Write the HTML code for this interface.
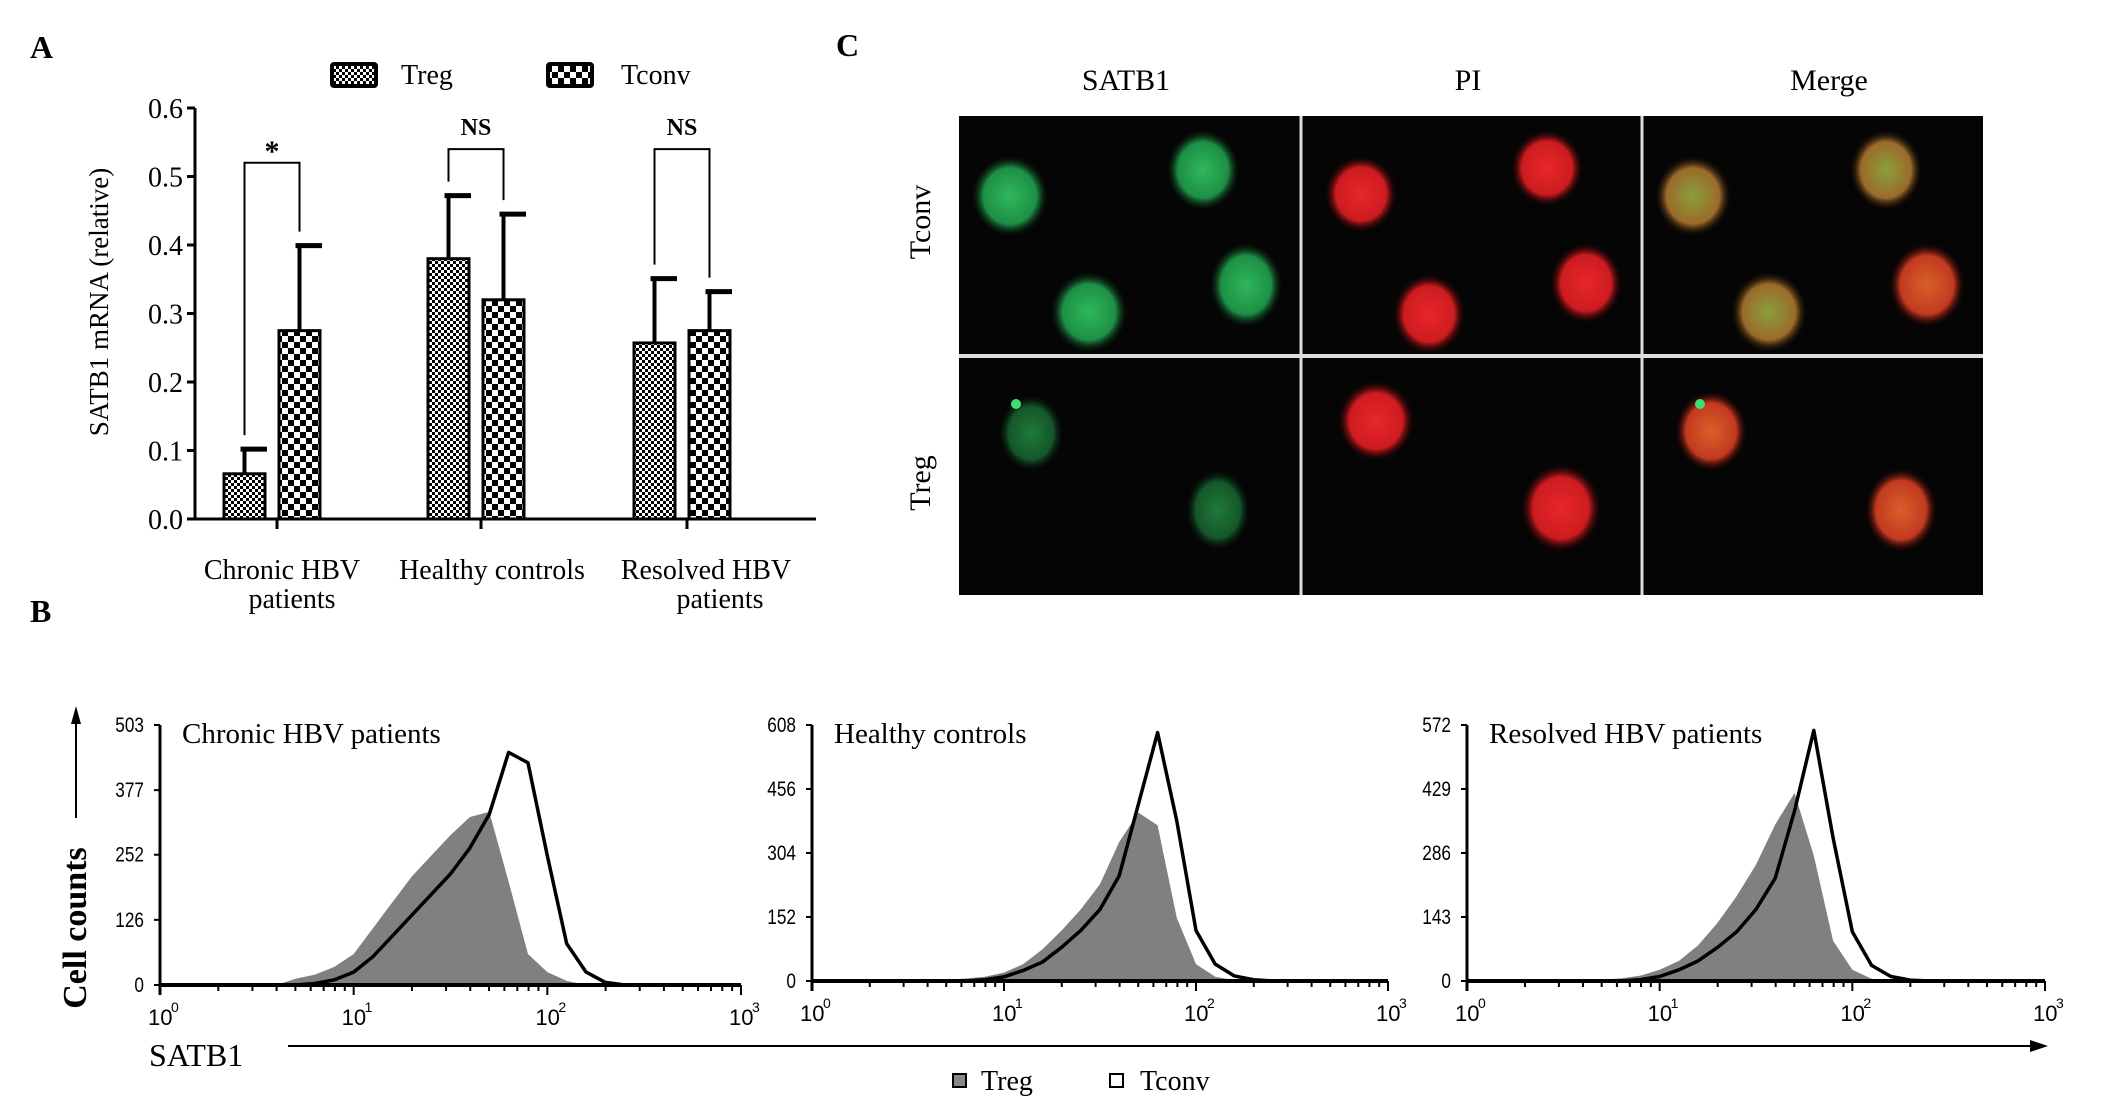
<!DOCTYPE html>
<html><head><meta charset="utf-8">
<style>
html,body{margin:0;padding:0;background:#fff;}
svg{display:block;font-family:"Liberation Serif",serif;}
</style></head>
<body>
<svg id="fig" width="2126" height="1105" viewBox="0 0 2126 1105" xmlns="http://www.w3.org/2000/svg">
<defs>
  <pattern id="pTreg" width="6" height="6" patternUnits="userSpaceOnUse">
    <rect width="6" height="6" fill="#fff"/><rect width="3" height="3" fill="#000"/><rect x="3" y="3" width="3" height="3" fill="#000"/>
  </pattern>
  <pattern id="pTconv" width="12" height="12" patternUnits="userSpaceOnUse">
    <rect width="12" height="12" fill="#fff"/><rect width="6" height="6" fill="#000"/><rect x="6" y="6" width="6" height="6" fill="#000"/>
  </pattern>
  <radialGradient id="gG"><stop offset="0" stop-color="#2fb85a"/><stop offset="0.7" stop-color="#1d8f45"/><stop offset="1" stop-color="#0a2a12" stop-opacity="0"/></radialGradient>
  <radialGradient id="gGd"><stop offset="0" stop-color="#1f7a3a"/><stop offset="0.7" stop-color="#15562a"/><stop offset="1" stop-color="#061a0b" stop-opacity="0"/></radialGradient>
  <radialGradient id="gR"><stop offset="0" stop-color="#e8262a"/><stop offset="0.7" stop-color="#cc1c20"/><stop offset="1" stop-color="#300" stop-opacity="0"/></radialGradient>
  <radialGradient id="gM"><stop offset="0" stop-color="#8aa03a"/><stop offset="0.7" stop-color="#9a6a2a"/><stop offset="1" stop-color="#201000" stop-opacity="0"/></radialGradient>
  <radialGradient id="gMr"><stop offset="0" stop-color="#d8602a"/><stop offset="0.7" stop-color="#c23a20"/><stop offset="1" stop-color="#300" stop-opacity="0"/></radialGradient>
</defs>

<text x="30" y="58" font-size="32" font-weight="bold">A</text>
<text x="30" y="622" font-size="32" font-weight="bold">B</text>
<text x="836" y="56" font-size="32" font-weight="bold">C</text>

<g id="barChart">
  <g>
    <rect x="332" y="64" width="44" height="22" fill="url(#pTreg)" stroke="#000" stroke-width="4" rx="2"/>
    <text x="401" y="84" font-size="28">Treg</text>
    <rect x="548" y="64" width="44" height="22" fill="url(#pTconv)" stroke="#000" stroke-width="4" rx="2"/>
    <text x="621" y="84" font-size="28">Tconv</text>
  </g>
  <text transform="translate(108,302) rotate(-90)" text-anchor="middle" font-size="27">SATB1 mRNA (relative)</text>
</g>

<g>
  <text x="1126" y="90" text-anchor="middle" font-size="30">SATB1</text>
  <text x="1468" y="90" text-anchor="middle" font-size="30">PI</text>
  <text x="1829" y="90" text-anchor="middle" font-size="30">Merge</text>
  <text transform="translate(930,222) rotate(-90)" text-anchor="middle" font-size="30">Tconv</text>
  <text transform="translate(930,483) rotate(-90)" text-anchor="middle" font-size="30">Treg</text>
  <rect x="959" y="116" width="1024" height="479" fill="#050505"/>
  <g>
    <ellipse cx="1010" cy="196" rx="38" ry="40" fill="url(#gG)"/><ellipse cx="1203" cy="170" rx="36" ry="40" fill="url(#gG)"/>
    <ellipse cx="1089" cy="312" rx="38" ry="40" fill="url(#gG)"/><ellipse cx="1246" cy="285" rx="36" ry="42" fill="url(#gG)"/>
  </g>
  <g>
    <ellipse cx="1361" cy="194" rx="36" ry="38" fill="url(#gR)"/><ellipse cx="1547" cy="168" rx="36" ry="38" fill="url(#gR)"/>
    <ellipse cx="1429" cy="314" rx="36" ry="40" fill="url(#gR)"/><ellipse cx="1586" cy="283" rx="36" ry="40" fill="url(#gR)"/>
  </g>
  <g>
    <ellipse cx="1693" cy="196" rx="38" ry="40" fill="url(#gM)"/><ellipse cx="1886" cy="170" rx="36" ry="40" fill="url(#gM)"/>
    <ellipse cx="1769" cy="312" rx="38" ry="40" fill="url(#gM)"/><ellipse cx="1927" cy="285" rx="38" ry="42" fill="url(#gMr)"/>
  </g>
  <g>
    <ellipse cx="1031" cy="433" rx="32" ry="38" fill="url(#gGd)"/><ellipse cx="1218" cy="510" rx="32" ry="40" fill="url(#gGd)"/>
    <circle cx="1016" cy="404" r="5" fill="#3ce070"/>
  </g>
  <g>
    <ellipse cx="1376" cy="421" rx="38" ry="40" fill="url(#gR)"/><ellipse cx="1561" cy="508" rx="40" ry="44" fill="url(#gR)"/>
  </g>
  <g>
    <ellipse cx="1711" cy="431" rx="36" ry="40" fill="url(#gMr)"/><ellipse cx="1901" cy="510" rx="36" ry="42" fill="url(#gMr)"/>
    <circle cx="1700" cy="404" r="5" fill="#3ce070"/>
  </g>
  <line x1="1301" y1="116" x2="1301" y2="595" stroke="#ddd" stroke-width="3"/>
  <line x1="1642" y1="116" x2="1642" y2="595" stroke="#ddd" stroke-width="3"/>
  <line x1="959" y1="356" x2="1983" y2="356" stroke="#ddd" stroke-width="4"/>
</g>

<g>
  <text transform="translate(86,928) rotate(-90)" text-anchor="middle" font-size="34" font-weight="bold">Cell counts</text>
  <line x1="76" y1="818" x2="76" y2="722" stroke="#000" stroke-width="2"/>
  <polygon points="76,706 71,724 81,724" fill="#000"/>
  <text x="149" y="1066" font-size="32">SATB1</text>
  <line x1="288" y1="1046" x2="2032" y2="1046" stroke="#000" stroke-width="2"/>
  <polygon points="2048,1046 2030,1040 2030,1052" fill="#000"/>
  <rect x="953" y="1074" width="13" height="13" fill="#888" stroke="#000" stroke-width="2"/>
  <text x="981" y="1090" font-size="28">Treg</text>
  <rect x="1110" y="1074" width="13" height="13" fill="#fff" stroke="#000" stroke-width="2"/>
  <text x="1140" y="1090" font-size="28">Tconv</text>
</g>
</svg>

<script>
// ---- Panel A data ----
const barCategories = ["Chronic HBV patients", "Healthy controls", "Resolved HBV patients"];
const tregMeans = [0.066, 0.38, 0.257];
const tregErr = [0.036, 0.092, 0.094];
const tconvMeans = [0.275, 0.32, 0.275];
const tconvErr = [0.124, 0.125, 0.057];
const barTicks = ["0.0", "0.1", "0.2", "0.3", "0.4", "0.5", "0.6"];
const sigLabels = ["*", "NS", "NS"];
const sigHeights = [0.52, 0.54, 0.54];

// ---- Panel B data (log10 bin centers, counts) ----
const histBins = [0.6,0.7,0.8,0.9,1.0,1.1,1.2,1.3,1.4,1.5,1.6,1.7,1.8,1.9,2.0,2.1,2.2,2.3,2.4];
const histTitles = ["Chronic HBV patients", "Healthy controls", "Resolved HBV patients"];
const histMax = [503, 608, 572];
const histTicks0 = ["0","126","252","377","503"];
const histTicks1 = ["0","152","304","456","608"];
const histTicks2 = ["0","143","286","429","572"];
const tregChronic = [0,12,20,35,60,110,160,210,250,290,325,335,200,60,25,8,0,0,0];
const tconvChronic = [0,0,3,10,25,55,95,135,175,215,265,330,450,430,250,80,25,5,0];
const tregHealthy = [0,3,6,10,20,40,75,120,170,230,330,400,370,150,40,10,2,0,0];
const tconvHealthy = [0,0,0,3,10,25,45,80,120,170,250,420,590,380,120,40,12,3,0];
const tregResolved = [0,3,6,12,25,45,80,130,190,260,350,420,280,90,25,5,0,0,0];
const tconvResolved = [0,0,0,3,10,25,45,75,110,160,230,380,560,320,110,35,10,2,0];

const NS = "http://www.w3.org/2000/svg";
const svg = document.getElementById("fig");
function mk(tag, attrs, parent) {
  const e = document.createElementNS(NS, tag);
  for (const k in attrs) e.setAttribute(k, attrs[k]);
  (parent || svg).appendChild(e);
  return e;
}

// ---- Panel A ----
const A = document.getElementById("barChart");
const ax0 = 195, ay0 = 519, ayPer = 685;
function yA(v) { return ay0 - v * ayPer; }
const groupX = [224, 428, 634];
const barW = 41, gap = 55;
mk("line", {x1: ax0, y1: yA(0.6), x2: ax0, y2: ay0, stroke: "#000", "stroke-width": 3}, A);
mk("line", {x1: ax0, y1: ay0, x2: 816, y2: ay0, stroke: "#000", "stroke-width": 3}, A);
barTicks.forEach((t) => {
  const v = parseFloat(t);
  mk("line", {x1: ax0 - 8, y1: yA(v), x2: ax0, y2: yA(v), stroke: "#000", "stroke-width": 3}, A);
  const tx = mk("text", {x: ax0 - 12, y: yA(v) + 10, "text-anchor": "end", "font-size": 28}, A);
  tx.textContent = t;
  
  
});
barCategories.forEach((c, i) => {
  const x1 = groupX[i], x2 = groupX[i] + gap;
  [[x1, tregMeans[i], tregErr[i], "url(#pTreg)", "treg"], [x2, tconvMeans[i], tconvErr[i], "url(#pTconv)", "tconv"]].forEach(([x, m, e, f, nm]) => {
    const el = mk("line", {x1: x + barW / 2, y1: yA(m), x2: x + barW / 2, y2: yA(m + e), stroke: "#000", "stroke-width": 4}, A);
    
    
    mk("line", {x1: x + barW / 2 - 4, y1: yA(m + e), x2: x + barW + 2, y2: yA(m + e), stroke: "#000", "stroke-width": 5}, A);
    const b = mk("rect", {x: x, y: yA(m), width: barW, height: ay0 - yA(m), fill: f, stroke: "#000", "stroke-width": 3}, A);
    
    
  });
  mk("line", {x1: x2 - 2, y1: ay0, x2: x2 - 2, y2: ay0 + 10, stroke: "#000", "stroke-width": 3}, A);
  const bl = x1 + barW / 2, br = x2 + barW / 2;
  const bt = yA(sigHeights[i]);
  const br_ = mk("path", {d: `M${bl},${yA(tregMeans[i] + tregErr[i]) - 14} V${bt} H${br} V${yA(tconvMeans[i] + tconvErr[i]) - 14}`, fill: "none", stroke: "#000", "stroke-width": 2}, A);
  
  
  const s = mk("text", {x: (bl + br) / 2, y: bt - (i === 0 ? 2 : 14), "text-anchor": "middle", "font-size": i === 0 ? 30 : 24, "font-weight": "bold"}, A);
  s.textContent = sigLabels[i];
  
  
  const words = c.split(" ");
  const cx = (x1 + x2 + barW) / 2;
  if (i === 1) {
    const t = mk("text", {x: cx + 16, y: 579, "text-anchor": "middle", "font-size": 28}, A);
    t.textContent = c;
    
    
  } else {
    const t1 = mk("text", {x: cx + (i === 0 ? 10 : 24), y: 579, "text-anchor": "middle", "font-size": 28}, A);
    t1.textContent = words.slice(0, 2).join(" ");
    
    
    const t2 = mk("text", {x: cx + (i === 0 ? 20 : 38), y: 608, "text-anchor": "middle", "font-size": 28}, A);
    t2.textContent = words[2];
    
    
  }
});

// ---- Panel B ----
const histAxes = [
  {x0: 160, x3: 741, yTop: 725, yBot: 985, ticks: histTicks0, treg: tregChronic, tconv: tconvChronic},
  {x0: 812, x3: 1388, yTop: 725, yBot: 981, ticks: histTicks1, treg: tregHealthy, tconv: tconvHealthy},
  {x0: 1467, x3: 2045, yTop: 725, yBot: 981, ticks: histTicks2, treg: tregResolved, tconv: tconvResolved}
];
histAxes.forEach((h, k) => {
  const g = mk("g", {});
  
  
  const xs = lv => h.x0 + (lv / 3) * (h.x3 - h.x0);
  const ys = v => h.yBot - (v / histMax[k]) * (h.yBot - h.yTop);
  let d = `M${xs(histBins[0])},${h.yBot}`;
  histBins.forEach((b, i) => { d += ` L${xs(b)},${ys(h.treg[i])}`; });
  d += ` L${xs(histBins[histBins.length - 1])},${h.yBot} Z`;
  const ta = mk("path", {d: d, fill: "#808080"}, g);
  
  
  let d2 = "";
  histBins.forEach((b, i) => { d2 += (i ? " L" : "M") + xs(b) + "," + ys(h.tconv[i]); });
  const tl = mk("path", {d: d2, fill: "none", stroke: "#000", "stroke-width": 3.5, "stroke-linejoin": "round"}, g);
  
  
  mk("line", {x1: h.x0, y1: h.yTop, x2: h.x0, y2: h.yBot + 10, stroke: "#000", "stroke-width": 3}, g);
  mk("line", {x1: h.x0, y1: h.yBot, x2: h.x3, y2: h.yBot, stroke: "#000", "stroke-width": 4}, g);
  h.ticks.forEach((t) => {
    const v = parseFloat(t);
    mk("line", {x1: h.x0 - 6, y1: ys(v), x2: h.x0, y2: ys(v), stroke: "#000", "stroke-width": 2}, g);
    const tx = mk("text", {x: h.x0 - 16, y: ys(v) + 7, "text-anchor": "end", "font-size": 21, "font-family": "Liberation Sans, sans-serif", transform: `translate(${(h.x0 - 16) * 0.18},0) scale(0.82,1)`}, g);
    tx.textContent = t;
    
    
  });
  for (let dec = 0; dec < 3; dec++) {
    for (let m = 1; m <= 9; m++) {
      const lv = dec + Math.log10(m);
      mk("line", {x1: xs(lv), y1: h.yBot, x2: xs(lv), y2: h.yBot + (m === 1 ? 10 : 6), stroke: "#000", "stroke-width": 2}, g);
    }
  }
  mk("line", {x1: h.x3, y1: h.yBot, x2: h.x3, y2: h.yBot + 10, stroke: "#000", "stroke-width": 2}, g);
  for (let dec = 0; dec <= 3; dec++) {
    const tx = mk("text", {x: xs(dec) - 12, y: h.yBot + 40, "font-size": 22, "font-family": "Liberation Sans, sans-serif"}, g);
    tx.textContent = "10";
    
    
    const sp = mk("text", {x: xs(dec) + 11, y: h.yBot + 27, "font-size": 14, "font-family": "Liberation Sans, sans-serif"}, g);
    sp.textContent = String(dec);
  }
  const title = mk("text", {x: h.x0 + 22, y: h.yTop + 18, "font-size": 29}, g);
  title.textContent = histTitles[k];
  
  
});
</script>
</body></html>
